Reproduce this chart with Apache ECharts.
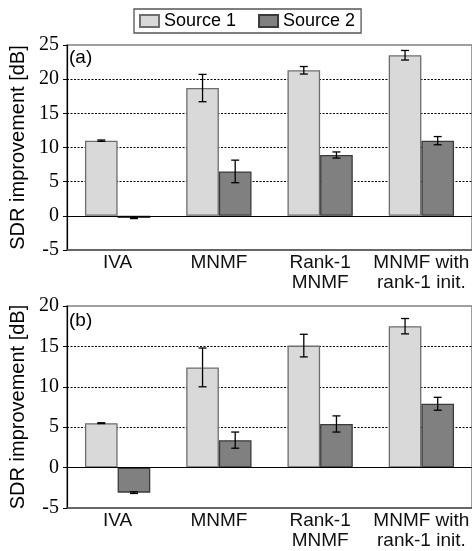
<!DOCTYPE html>
<html>
<head>
<meta charset="utf-8">
<script src="https://cdn.jsdelivr.net/npm/echarts@6/dist/echarts.min.js"></script>
<style>html,body{margin:0;padding:0;background:#fff;}#c{width:472px;height:551px;}</style>
</head>
<body>
<div id="c"></div>
<script>
const categories = ['IVA', 'MNMF', 'Rank-1\nMNMF', 'MNMF with\nrank-1 init.'];
const seriesNames = ['Source 1', 'Source 2'];
// Panel (a)
const a_src1 = [11.0, 18.7, 21.3, 23.5];
const a_src1_err = [0.1, 2.0, 0.55, 0.7];
const a_src2 = [-0.3, 6.5, 8.9, 11.0];
const a_src2_err = [0.1, 1.65, 0.45, 0.6];
// Panel (b)
const b_src1 = [5.5, 12.4, 15.1, 17.5];
const b_src1_err = [0.05, 2.4, 1.4, 0.95];
const b_src2 = [-3.1, 3.4, 5.4, 7.9];
const b_src2_err = [0.1, 1.0, 1.0, 0.8];
const yTicksA = {min: -5, max: 25, interval: 5};
const yTicksB = {min: -5, max: 20, interval: 5};

const SANS = '"Liberation Sans"';
const SERIF = '"Liberation Serif"';
const GAP = 0.355;
const c1 = '#d9d9d9', c1b = '#6e6e6e', c2 = '#808080', c2b = '#3a3a3a';

function errSeries(idx, vals, errs, side) {
  return {
    type: 'custom', xAxisIndex: idx, yAxisIndex: idx, z: 10, silent: true,
    data: vals.map((v, i) => [i, v, errs[i], side]),
    encode: {x: 0, y: 1},
    renderItem: function (params, api) {
      const x = api.value(0), v = api.value(1), e = api.value(2), s = api.value(3);
      const band = api.size([1, 0])[0];
      const bw = band * (1 - GAP) / 2;
      const cx = api.coord([x, v])[0] + s * bw / 2;
      const yt = api.coord([x, v + e])[1];
      const yb = api.coord([x, v - e])[1];
      const w = 4;
      const st = {stroke: '#000', lineWidth: 1.3};
      return {type: 'group', children: [
        {type: 'line', shape: {x1: cx, y1: yt, x2: cx, y2: yb}, style: st},
        {type: 'line', shape: {x1: cx - w, y1: yt, x2: cx + w, y2: yt}, style: st},
        {type: 'line', shape: {x1: cx - w, y1: yb, x2: cx + w, y2: yb}, style: st}
      ]};
    }
  };
}

function barSeries(idx, name, vals, fill, border, withZero) {
  const s = {
    type: 'bar', name: name, xAxisIndex: idx, yAxisIndex: idx,
    data: vals, barGap: '0%', barCategoryGap: (GAP * 100) + '%',
    itemStyle: {color: fill, borderColor: border, borderWidth: 1.3},
    silent: true
  };
  if (withZero) {
    s.markLine = {silent: true, symbol: 'none', label: {show: false},
      lineStyle: {color: '#000', type: 'solid', width: 1.2},
      data: [{yAxis: 0}]};
  }
  return s;
}

function yAxis(idx, t) {
  return {
    type: 'value', gridIndex: idx, min: t.min, max: t.max, interval: t.interval,
    name: 'SDR improvement [dB]', nameLocation: 'middle', nameGap: 37,
    nameTextStyle: {fontFamily: SANS, fontSize: 20, color: '#000'},
    axisLine: {show: true, lineStyle: {color: '#000', width: 1.2}},
    axisTick: {show: true, length: 4, lineStyle: {color: '#000'}},
    axisLabel: {fontFamily: SERIF, fontSize: 20, color: '#000', margin: 8,
      formatter: function (v) { return '{s|' + (v < 0 ? '-' : '') + Math.abs(v) + '}'; },
      rich: {s: {fontFamily: SERIF, fontSize: 20, color: '#000'}}},
    splitLine: {show: true, showMinLine: false, showMaxLine: false,
      lineStyle: {color: '#000', type: [2, 1.5], width: 1}}
  };
}
function xAxis(idx) {
  return {
    type: 'category', gridIndex: idx, data: categories,
    axisLine: {show: true, onZero: false, lineStyle: {color: '#555', width: 1.5}},
    axisTick: {show: false},
    axisLabel: {fontFamily: SANS, fontSize: 19, color: '#111', margin: 3, lineHeight: 20, interval: 0},
    splitLine: {show: false}
  };
}

const chart = echarts.init(document.getElementById('c'), null, {renderer: 'canvas'});
chart.setOption({
  animation: false,
  backgroundColor: '#fff',
  textStyle: {fontFamily: SANS},
  legend: {
    data: seriesNames, left: 134, top: 9, orient: 'horizontal',
    itemWidth: 19, itemHeight: 12, itemGap: 22,
    padding: [3, 6, 3, 5],
    borderColor: '#555', borderWidth: 1.3,
    textStyle: {fontFamily: SANS, fontSize: 18, color: '#000'},
    icon: 'rect', selectedMode: false
  },
  grid: [
    {left: 67, top: 45, width: 409, height: 205, show: true, borderColor: '#808080', borderWidth: 1.5, containLabel: false},
    {left: 67, top: 306, width: 409, height: 205, show: true, borderColor: '#808080', borderWidth: 1.5, containLabel: false}
  ],
  xAxis: [xAxis(0), xAxis(1)],
  yAxis: [yAxis(0, yTicksA), yAxis(1, yTicksB)],
  graphic: [
    {type: 'text', left: 69, top: 48, style: {text: '(a)', fontFamily: SANS, fontSize: 19, fill: '#000'}},
    {type: 'text', left: 69, top: 311, style: {text: '(b)', fontFamily: SANS, fontSize: 19, fill: '#000'}}
  ],
  series: [
    barSeries(0, seriesNames[0], a_src1, c1, c1b, true),
    barSeries(0, seriesNames[1], a_src2, c2, c2b, false),
    barSeries(1, seriesNames[0], b_src1, c1, c1b, true),
    barSeries(1, seriesNames[1], b_src2, c2, c2b, false),
    errSeries(0, a_src1, a_src1_err, -1),
    errSeries(0, a_src2, a_src2_err, 1),
    errSeries(1, b_src1, b_src1_err, -1),
    errSeries(1, b_src2, b_src2_err, 1)
  ]
});
</script>
</body>
</html>
